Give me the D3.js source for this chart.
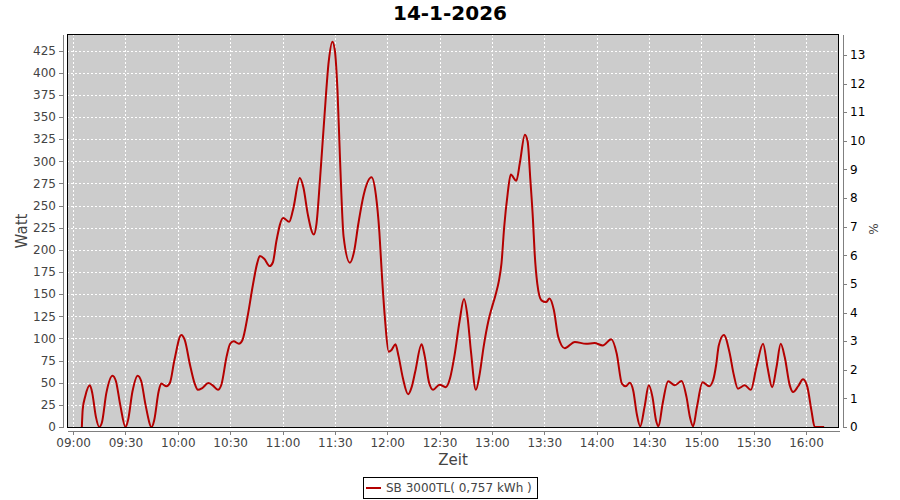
<!DOCTYPE html>
<html>
<head>
<meta charset="utf-8">
<script src="https://cdn.jsdelivr.net/npm/d3@7"></script>
<style>
  body { margin: 0; background: #ffffff; }
  svg { display: block; font-family: "DejaVu Sans", sans-serif; }
</style>
</head>
<body>
<svg id="CHART" width="900" height="500"></svg>
<script>
// Chart data
var chartTitle = "14-1-2026";
var seriesName = "SB 3000TL( 0,757 kWh )";

var times = [
  "09:05:00", "09:05:30", "09:07:00", "09:09:36", "09:11:00", "09:13:00", "09:15:00", "09:16:30",
  "09:19:00", "09:22:36", "09:24:30", "09:27:00", "09:30:00", "09:31:30", "09:34:00", "09:37:00",
  "09:39:00", "09:41:30", "09:45:00", "09:46:30", "09:49:00", "09:50:30", "09:53:30", "09:55:30",
  "09:58:00", "10:02:00", "10:04:00", "10:07:00", "10:09:30", "10:11:30", "10:14:00", "10:17:30",
  "10:20:00", "10:23:00", "10:25:00", "10:28:00", "10:30:00", "10:32:00", "10:35:00", "10:37:00",
  "10:40:00", "10:43:00", "10:45:30", "10:47:00", "10:49:30", "10:52:42", "10:54:30", "10:56:30",
  "11:00:24", "11:03:48", "11:06:00", "11:09:54", "11:12:00", "11:14:30", "11:17:54", "11:19:30",
  "11:21:30", "11:24:00", "11:26:30", "11:28:36", "11:30:00", "11:31:30", "11:33:00", "11:35:00",
  "11:38:36", "11:41:00", "11:43:30", "11:46:30", "11:51:00", "11:53:30", "11:55:30", "11:57:00",
  "11:58:48", "12:00:48", "12:02:30", "12:04:42", "12:06:30", "12:09:00", "12:12:00", "12:14:00",
  "12:16:00", "12:19:42", "12:21:30", "12:24:00", "12:26:18", "12:30:00", "12:33:30", "12:36:00",
  "12:38:30", "12:41:30", "12:44:00", "12:46:00", "12:48:00", "12:50:48", "12:53:00", "12:55:12",
  "12:58:00", "13:00:00", "13:02:00", "13:04:00", "13:05:30", "13:07:00", "13:09:00", "13:10:48",
  "13:14:00", "13:16:00", "13:18:54", "13:20:30", "13:22:00", "13:23:30", "13:24:30", "13:26:00",
  "13:28:24", "13:31:00", "13:33:00", "13:35:30", "13:38:00", "13:41:48", "13:47:30", "13:54:00",
  "13:58:48", "14:03:30", "14:08:24", "14:11:30", "14:14:30", "14:16:42", "14:19:00", "14:21:00",
  "14:23:00", "14:25:00", "14:27:30", "14:29:54", "14:32:00", "14:34:00", "14:35:30", "14:37:48",
  "14:41:00", "14:44:48", "14:48:42", "14:51:30", "14:53:30", "14:55:18", "14:57:30", "15:00:42",
  "15:04:30", "15:06:48", "15:08:30", "15:10:00", "15:12:54", "15:16:18", "15:18:30", "15:21:00",
  "15:24:54", "15:28:24", "15:31:36", "15:35:24", "15:37:54", "15:40:36", "15:43:06", "15:45:30",
  "15:47:48", "15:50:42", "15:52:36", "15:55:30", "15:58:18", "16:00:48", "16:03:06", "16:05:00",
  "16:10:24"
];

var watt = [
  0, 20, 35, 47, 38, 12, 0, 5,
  38, 58, 52, 25, 0, 8, 40, 58,
  52, 25, 0, 8, 40, 49, 46, 50,
  75, 104, 98, 70, 50, 42, 44, 49.6,
  47, 42, 48, 80, 94, 96.7, 94, 98,
  125, 160, 185, 193, 190, 181.7, 186, 210,
  236, 231.7, 245, 281, 270, 240, 217.4, 230,
  280, 350, 413, 435, 425, 380, 300, 215,
  185.5, 198, 230, 262, 282, 262, 220, 170,
  120, 85, 87, 93.3, 80, 55, 37, 45,
  62, 93.3, 80, 50, 42, 47.8, 45, 55,
  80, 120, 144.5, 125, 85, 42, 60, 90,
  120, 135, 148.6, 165, 185, 225, 263, 285,
  278, 298, 330, 322, 280, 235, 196, 162,
  143, 141, 145, 132, 102, 89, 96, 94,
  94.8, 92, 99, 83, 49, 46, 50, 41,
  15, 0.8, 23, 47, 34, 8, 0.8, 26,
  51.6, 47, 52, 34, 11, 0.8, 22.6, 50.4,
  46, 53, 70, 92, 104, 83, 60, 43.3,
  47, 42, 67.7, 94, 67.7, 45, 67.7, 94,
  79, 47, 39.5, 46, 53.8, 45, 18.8, 0,
  0
];

// Axis ticks
var wattTicks = d3.range(0, 426, 25);
var pctTicks = d3.range(0, 14, 1);
var pctMax = 13.73;

// Plot area
var PLOT = { LEFT: 67, RIGHT: 839, TOP: 34, BOTTOM: 427 };

let svg = d3.select("#CHART");

let parseTime = d3.timeParse("%Y-%m-%d %H:%M:%S");
let data = times.map(function (t, i) {
  return { time: parseTime("2026-01-14 " + t), value: watt[i] };
});

// X scale with 2% margin on both ends
let ext = d3.extent(data, (d) => d.time);
let span = ext[1] - ext[0];
let xScale = d3.scaleTime()
  .domain([new Date(+ext[0] - span * 0.02), new Date(+ext[1] + span * 0.02)])
  .range([PLOT.LEFT, PLOT.RIGHT]);

let yMax = d3.max(watt) * 1.02;
let yScale = d3.scaleLinear().domain([0, yMax]).range([PLOT.BOTTOM, PLOT.TOP]);
let pScale = d3.scaleLinear().domain([0, pctMax]).range([PLOT.BOTTOM, PLOT.TOP]);

let xTicks = d3.timeMinute.every(30).range(
  d3.timeMinute.ceil(xScale.domain()[0]), xScale.domain()[1]);

// Background
svg.append("rect")
  .attr("x", PLOT.LEFT).attr("y", PLOT.TOP)
  .attr("width", PLOT.RIGHT - PLOT.LEFT).attr("height", PLOT.BOTTOM - PLOT.TOP)
  .attr("fill", "#cccccc");

// Grid
let grid = svg.append("g").attr("stroke", "#ffffff").attr("stroke-width", 1)
  .attr("stroke-dasharray", "2,2").attr("shape-rendering", "crispEdges");
grid.selectAll(".vg").data(xTicks).enter().append("line")
  .attr("x1", (d) => Math.round(xScale(d)) + 0.5).attr("x2", (d) => Math.round(xScale(d)) + 0.5)
  .attr("y1", PLOT.TOP).attr("y2", PLOT.BOTTOM);
grid.selectAll(".hg").data(wattTicks).enter().append("line")
  .attr("x1", PLOT.LEFT).attr("x2", PLOT.RIGHT)
  .attr("y1", (d) => Math.round(yScale(d)) + 0.5).attr("y2", (d) => Math.round(yScale(d)) + 0.5);

// Series line
let line = d3.line()
  .x((d) => xScale(d.time))
  .y((d) => yScale(d.value))
  .curve(d3.curveMonotoneX);

svg.append("path")
  .datum(data)
  .attr("d", line)
  .attr("fill", "none")
  .attr("stroke", "#b40000")
  .attr("stroke-width", 2)
  .attr("stroke-linejoin", "round");

// Plot outline
svg.append("rect")
  .attr("x", PLOT.LEFT + 0.5).attr("y", PLOT.TOP + 0.5)
  .attr("width", PLOT.RIGHT - PLOT.LEFT - 1).attr("height", PLOT.BOTTOM - PLOT.TOP)
  .attr("fill", "none").attr("stroke", "#000000").attr("stroke-width", 1)
  .attr("shape-rendering", "crispEdges");

// Axes
let leftAxis = d3.axisLeft(yScale).tickValues(wattTicks).tickSizeInner(4).tickSizeOuter(0).tickPadding(3);
let rightAxis = d3.axisRight(pScale).tickValues(pctTicks).tickSizeInner(4).tickSizeOuter(0).tickPadding(3);
let bottomAxis = d3.axisBottom(xScale).tickValues(xTicks).tickFormat(d3.timeFormat("%H:%M"))
  .tickSizeInner(4).tickSizeOuter(0).tickPadding(3);

let gl = svg.append("g").attr("transform", "translate(" + (PLOT.LEFT - 4) + ",0)").call(leftAxis);
let gr = svg.append("g").attr("transform", "translate(" + (PLOT.RIGHT + 4) + ",0)").call(rightAxis);
let gb = svg.append("g").attr("transform", "translate(0," + (PLOT.BOTTOM + 4) + ")").call(bottomAxis);

[gl, gr, gb].forEach(function (g) {
  g.attr("font-family", "DejaVu Sans, sans-serif").attr("font-size", 12);
  g.selectAll("path, line").attr("stroke", "#808080").attr("shape-rendering", "crispEdges");
  g.selectAll("text").attr("fill", "#444444");
});
gr.selectAll("text").attr("fill", "#000000");

// Title
svg.append("text")
  .attr("x", 450).attr("y", 20)
  .attr("text-anchor", "middle")
  .attr("font-size", 20).attr("font-weight", "bold")
  .attr("fill", "#000000")
  .text(chartTitle);

// Axis labels
svg.append("text")
  .attr("transform", "translate(27,231) rotate(-90)")
  .attr("text-anchor", "middle").attr("font-size", 15).attr("fill", "#444444")
  .text("Watt");

svg.append("text")
  .attr("x", 453).attr("y", 465)
  .attr("text-anchor", "middle").attr("font-size", 15).attr("fill", "#444444")
  .text("Zeit");

svg.append("text")
  .attr("transform", "translate(878,229) rotate(-90)")
  .attr("text-anchor", "middle").attr("font-size", 12).attr("fill", "#444444")
  .text("%");

// Legend
let legend = svg.append("g");
legend.append("rect")
  .attr("x", 363.5).attr("y", 477.5).attr("width", 174).attr("height", 21)
  .attr("fill", "#ffffff").attr("stroke", "#000000").attr("stroke-width", 1);
legend.append("line")
  .attr("x1", 366).attr("x2", 381).attr("y1", 488).attr("y2", 488)
  .attr("stroke", "#b40000").attr("stroke-width", 2);
legend.append("text")
  .attr("x", 386).attr("y", 492)
  .attr("font-size", 12).attr("fill", "#444444")
  .text(seriesName);
</script>
</body>
</html>
